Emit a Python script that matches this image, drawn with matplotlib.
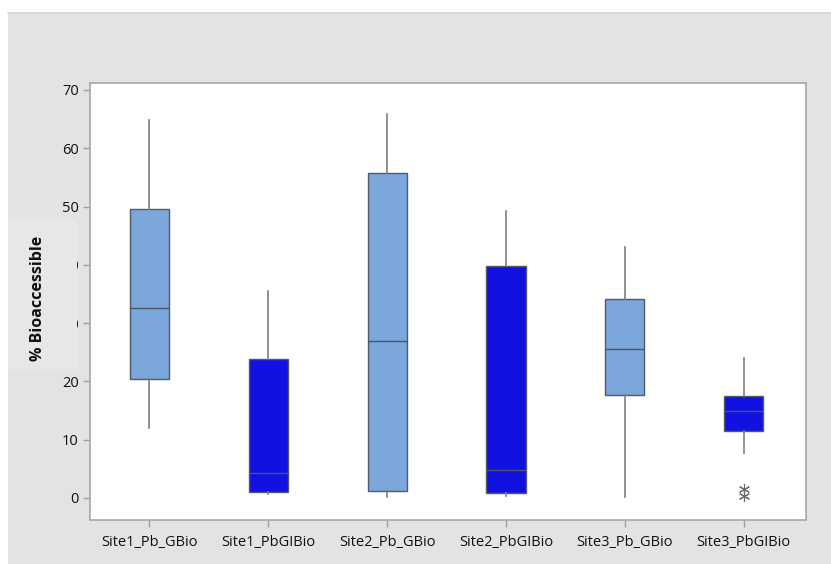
import matplotlib
matplotlib.use("Agg")
import matplotlib.pyplot as plt
from matplotlib.patches import Rectangle
from matplotlib.lines import Line2D

# Summary statistics for each sample group
categories = ["Site1_Pb_GBio", "Site1_PbGIBio", "Site2_Pb_GBio",
              "Site2_PbGIBio", "Site3_Pb_GBio", "Site3_PbGIBio"]
whisker_low = [12.0, 0.7, 0.2, 0.3, 0.2, 7.7]
q1 = [20.4, 1.0, 1.2, 0.9, 17.7, 11.4]
median = [32.6, 4.2, 26.9, 4.8, 25.6, 14.9]
q3 = [49.6, 23.8, 55.7, 39.8, 34.1, 17.4]
whisker_high = [64.8, 35.5, 65.9, 49.2, 43.0, 24.0]
outliers = [[], [], [], [], [], [1.6, 0.4]]
y_ticks = [0, 10, 20, 30, 40, 50, 60, 70]

light_blue = "#7ba7da"
dark_blue = "#1111e2"
box_colors = [light_blue, dark_blue] * 3

W, H = 831, 564
fig = plt.figure(figsize=(W / 100, H / 100), dpi=100, facecolor="white")

# grey panel behind the chart
fig.patches.append(Rectangle((8 / W, 0), 1 - 8 / W, (H - 13) / H,
                             transform=fig.transFigure, facecolor="#e3e3e3",
                             edgecolor="none", zorder=-5))
fig.lines.append(Line2D([8 / W, 1], [(H - 13) / H] * 2, transform=fig.transFigure,
                        color="#d4d4d4", linewidth=1.2, zorder=-4))

ax = fig.add_axes([90 / W, (H - 520) / H, 715.5 / W, (520 - 83) / H])
ax.set_facecolor("white")

stats = []
for i, name in enumerate(categories):
    stats.append(dict(label=name, whislo=whisker_low[i], q1=q1[i], med=median[i],
                      q3=q3[i], whishi=whisker_high[i], fliers=outliers[i]))

bp = ax.bxp(stats, positions=range(1, len(categories) + 1), widths=0.33,
            patch_artist=True, showcaps=False,
            boxprops=dict(edgecolor="#505a6a", linewidth=1.0),
            medianprops=dict(color="#4f5560", linewidth=1.0),
            whiskerprops=dict(color="#7f7f7f", linewidth=1.2),
            flierprops=dict(marker=(6, 2, 0), markersize=8, markeredgecolor="#6a6a6a",
                            markerfacecolor="none", markeredgewidth=0.8))
for patch, c in zip(bp["boxes"], box_colors):
    patch.set_facecolor(c)

ax.set_xlim(0.5, 6.52)
ax.set_ylim(-3.8, 71.2)
ax.set_yticks(y_ticks)
ax.set_yticklabels([str(t) for t in y_ticks])

for s in ax.spines.values():
    s.set_color("#a8a8a8")
    s.set_linewidth(1.2)
ax.tick_params(axis="both", direction="out", length=5, width=1, color="#a0a0a0",
               labelsize=10.5, labelcolor="#111111", pad=3)
for lbl in ax.get_xticklabels() + ax.get_yticklabels():
    lbl.set_fontfamily("Open Sans")
    lbl.set_fontweight("medium")
ax.tick_params(axis="x", pad=6)

# lighter block on the left edge behind the axis title
fig.patches.append(Rectangle((8 / W, (H - 371) / H), (77 - 8) / W, (371 - 220) / H,
                             transform=fig.transFigure, facecolor="#e7e7e7",
                             edgecolor="none", zorder=1))

fig.text(38 / W, 1 - 298 / H, "% Bioaccessible", rotation=90, ha="center", va="center",
         fontsize=11.5, fontweight="bold", family=["Open Sans", "DejaVu Sans"],
         color="#111111", zorder=2)

fig.savefig("out.png", dpi=100, facecolor="white")
